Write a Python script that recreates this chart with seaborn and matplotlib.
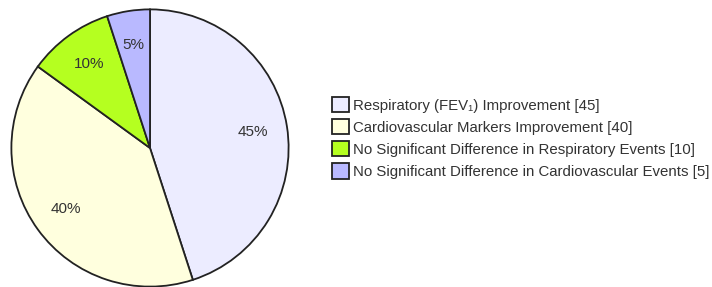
import matplotlib.pyplot as plt
import seaborn as sns

sns.set_theme(style="white")
plt.rcParams['font.family'] = ['Liberation Sans', 'DejaVu Sans']

# Data
categories = [
    "Respiratory (FEV\u2081) Improvement",
    "Cardiovascular Markers Improvement",
    "No Significant Difference in Respiratory Events",
    "No Significant Difference in Cardiovascular Events",
]
values = [45, 40, 10, 5]
colors = ["#ECECFF", "#FFFFDE", "#B5FF20", "#B9B9FF"]

fig = plt.figure(figsize=(7.12, 2.87), dpi=100)
W, H = 712, 287
# pie axes: center (150, 148) px, radius 140 px
ax = fig.add_axes([10 / W, (H - 288) / H, 280 / W, 280 / H])

wedges, texts, autotexts = ax.pie(
    values,
    colors=colors,
    startangle=90,
    counterclock=False,
    autopct="%1.0f%%",
    pctdistance=0.75,
    radius=1.0,
    wedgeprops=dict(edgecolor="#222222", linewidth=1.3),
    textprops=dict(color="#333333", fontsize=11),
)
ax.set_xlim(-1.01, 1.01)
ax.set_ylim(-1.01, 1.01)
ax.set_aspect("equal")
ax.axis("off")

labels = [f"{c} [{v}]" for c, v in zip(categories, values)]
leg = fig.legend(
    wedges, labels,
    loc="upper left",
    bbox_to_anchor=(332 / W, 1 - 97 / H),
    frameon=False,
    fontsize=10.8,
    handlelength=1.1,
    handleheight=1.2,
    handletextpad=0.3,
    labelspacing=0.42,
    borderpad=0.0,
    borderaxespad=0.0,
)
for t in leg.get_texts():
    t.set_color("#333333")

fig.savefig("out.png", dpi=100)
